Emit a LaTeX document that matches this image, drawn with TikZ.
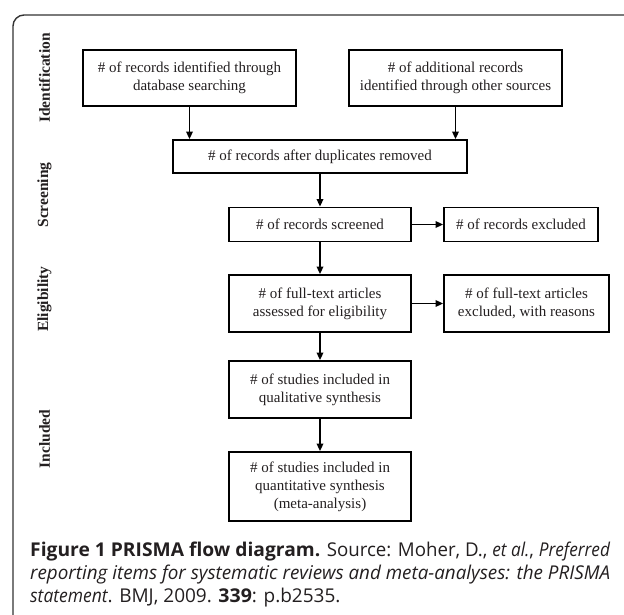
\documentclass[tikz,border=0pt]{standalone}
\usepackage{fontspec}
\usepackage{graphicx}
\setmainfont{Liberation Serif}
\newfontfamily\capfont{Open Sans}[ItalicFeatures={FakeStretch=0.92}, BoldFeatures={FakeStretch=1.03}]
\usetikzlibrary{arrows.meta}
\definecolor{ink}{HTML}{231F20}
\begin{document}
\begin{tikzpicture}[x=1pt,y=-1pt,
  box/.style 2 args={draw=black, line width=1.8pt, minimum width=#1, minimum height=#2,
    inner sep=0pt, align=center, text=ink, font=\fontsize{15}{18}\selectfont},
  phase/.style={rotate=90, text=ink, inner sep=0pt, font=\fontsize{15.5}{18}\selectfont\bfseries},
  flow/.style={draw=black, line width=1.7pt, -{Triangle[length=7.5pt,width=6.5pt]}},
  frame/.style={draw=black!80, line width=1.4pt, rounded corners=11pt},
  capline/.style={anchor=base west, inner sep=0pt, text=ink, font=\capfont\fontsize{19}{23}\selectfont}
]
\useasboundingbox (0,0) rectangle (624,615);

% outer frame
\coordinate (fb) at (13,616);
\coordinate (fc) at (13,15);
\coordinate (fr) at (625,15);
\draw[frame] (fb) -- (fc) -- (fr);

% phase labels
\node[phase] (lid) at (44.5,78) {Identification};
\node[phase] (lsc) at (44.5,195) {Screening};
\node[phase] (lel) at (44.5,299) {Eligibility};
\node[phase] (lin) at (44.5,439) {Included};

% boxes
\node[box={213pt}{56pt}] (b1) at (189.5,78) {\# of records identified through\\database searching};
\node[box={213pt}{56pt}] (b2) at (455.5,78) {\# of additional records\\identified through other sources};
\node[box={294pt}{33pt}] (b3) at (320,156.5) {\# of records after duplicates removed};
\node[box={182pt}{34pt}] (b4) at (320,224.5) {\# of records screened};
\node[box={154pt}{34pt}] (b5) at (521,224.5) {\# of records excluded};
\node[box={182pt}{57pt}] (b6) at (320,303.5) {\# of full-text articles\\assessed for eligibility};
\node[box={165pt}{57pt}] (b7) at (526.5,303.5) {\# of full-text articles\\excluded, with reasons};
\node[box={182pt}{57pt}] (b8) at (320,389.5) {\# of studies included in\\qualitative synthesis};
\node[box={182pt}{69pt}] (b9) at (320,486.5) {\# of studies included in\\quantitative synthesis\\(meta-analysis)};

% connectors
\draw[flow] (b1.south) -- (b1.south |- b3.north);
\draw[flow] (b2.south) -- (b2.south |- b3.north);
\draw[flow] (b3.south) -- (b4.north);
\draw[flow] (b4.east) -- (b5.west);
\draw[flow] (b4.south) -- (b6.north);
\draw[flow] (b6.east) -- (b7.west);
\draw[flow] (b6.south) -- (b8.north);
\draw[flow] (b8.south) -- (b9.north);

% caption
\node[capline] (cap1) at (30,556)
  {\resizebox{580pt}{\height}{\textbf{Figure 1 PRISMA flow diagram.} Source: Moher, D., \textit{et al.}, \textit{Preferred}}};
\node[capline] (cap2) at (30,579)
  {\resizebox{580pt}{\height}{\textit{reporting items for systematic reviews and meta-analyses: the PRISMA}}};
\node[capline] (cap3) at (30,602)
  {\textit{statement}. BMJ, 2009. \textbf{339}: p.b2535.};
\end{tikzpicture}
\end{document}
